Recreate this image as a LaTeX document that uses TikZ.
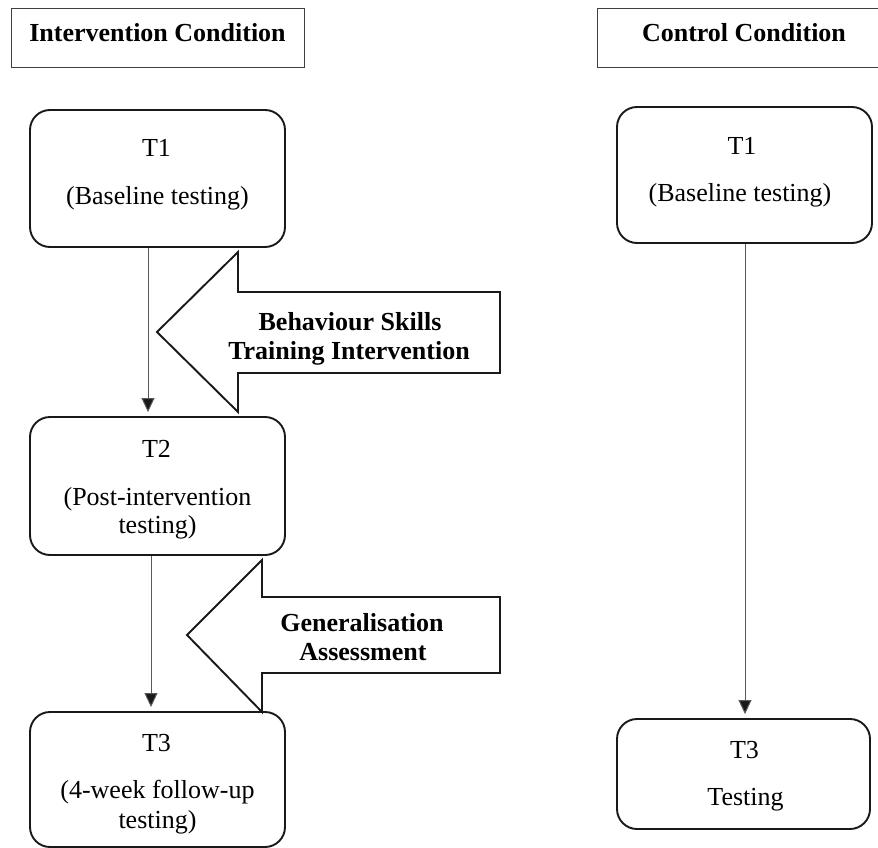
\documentclass[tikz,border=0pt]{standalone}
\usepackage{fontspec}
\setmainfont{Liberation Serif}
\usetikzlibrary{arrows.meta}
\begin{document}
\begin{tikzpicture}[x=1pt,y=-1pt,
  every node/.style={font=\fontsize{26}{31}\selectfont, inner sep=0pt},
  hdr/.style={draw=black!75, line width=1pt, rectangle},
  tbox/.style={draw=black!90, line width=1.9pt, rounded corners=20pt, rectangle},
  conn/.style={draw=black!65, line width=1pt, -{Triangle[width=13pt,length=14pt,fill=black!90]}, shorten >=4pt},
  blk/.style={draw=black!90, line width=1.9pt, fill=white, line join=miter},
  lbl/.style={anchor=base},
  blbl/.style={anchor=base, font=\fontsize{26}{31}\selectfont\bfseries}]
\useasboundingbox (0,0) rectangle (878,848);

% headers
\node[hdr, minimum width=293pt, minimum height=59pt] (hA) at (157.5,38.5) {};
\node[blbl] (hAt) at (157.5,42) {Intervention Condition};
\node[hdr, minimum width=288pt, minimum height=59pt] (hB) at (741,38.5) {};
\node[blbl] (hBt) at (744,42) {Control Condition};

% intervention boxes
\node[tbox, minimum width=255pt, minimum height=137pt] (t1a) at (157.5,178.5) {};
\node[lbl] (t1aA) at (156.5,157) {T1};
\node[lbl] (t1aB) at (157.5,204) {(Baseline testing)};

\node[tbox, minimum width=255pt, minimum height=138pt] (t2a) at (157.5,486) {};
\node[lbl] (t2aA) at (156.5,457) {T2};
\node[lbl] (t2aB) at (157.5,505) {(Post-intervention};
\node[lbl] (t2aC) at (157.5,533) {testing)};

\node[tbox, minimum width=255pt, minimum height=135pt] (t3a) at (157.5,779.5) {};
\node[lbl] (t3aA) at (156.5,751) {T3};
\node[lbl] (t3aB) at (157.5,798) {(4-week follow-up};
\node[lbl] (t3aC) at (157.5,828) {testing)};

% control boxes
\node[tbox, minimum width=255pt, minimum height=136pt] (t1b) at (744.5,175) {};
\node[lbl] (t1bA) at (742,154) {T1};
\node[lbl] (t1bB) at (740,201) {(Baseline testing)};

\node[tbox, minimum width=253pt, minimum height=110pt] (t3b) at (743.5,774) {};
\node[lbl] (t3bA) at (744.5,758) {T3};
\node[lbl] (t3bB) at (745.5,805) {Testing};

% connectors
\draw[conn] ([xshift=-9.5pt]t1a.south) -- ([xshift=-9.5pt]t2a.north);
\draw[conn] ([xshift=-6.5pt]t2a.south) -- ([xshift=-6.5pt]t3a.north);
\draw[conn] ([xshift=0.5pt]t1b.south) -- ([xshift=1.5pt]t3b.north);

% block arrows
\draw[blk] (157,332) -- (238,252) -- (238,292) -- (500,292) -- (500,373) -- (238,373) -- (238,412) -- cycle;
\node[blbl] (bsA) at (350,330) {Behaviour Skills};
\node[blbl] (bsB) at (349,359) {Training Intervention};

\draw[blk] (187,635) -- (262,560) -- (262,597) -- (500,597) -- (500,673) -- (262,673) -- (262,712) -- cycle;
\node[blbl] (gaA) at (362,631) {Generalisation};
\node[blbl] (gaB) at (363,660) {Assessment};
\end{tikzpicture}
\end{document}
